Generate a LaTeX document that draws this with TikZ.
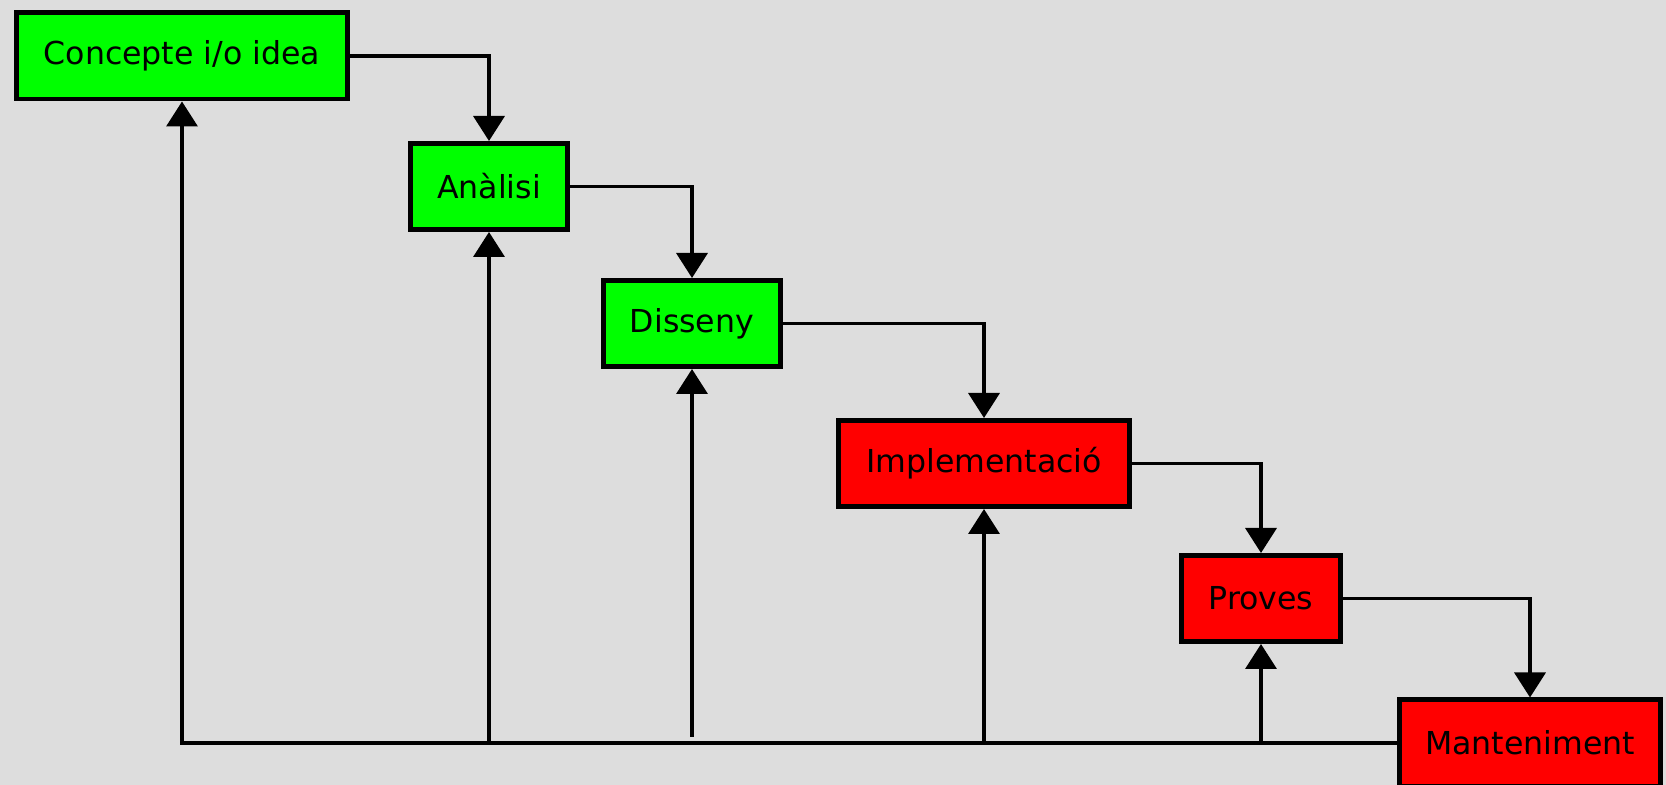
\documentclass[tikz,border=0pt]{standalone}
\usepackage{fontspec}
\setmainfont{DejaVu Sans}
\usetikzlibrary{arrows.meta,calc}
\definecolor{bg}{HTML}{DDDDDD}
\definecolor{boxgreen}{HTML}{00FF00}
\definecolor{boxred}{HTML}{FF0000}
\begin{document}
\begin{tikzpicture}[x=0.5pt,y=-0.5pt,
  phase/.style={draw=black, line width=2.3pt, rectangle, inner sep=0pt,
    minimum height=43.2pt, font=\fontsize{15.8}{19}\selectfont},
  greenbox/.style={phase, fill=boxgreen},
  redbox/.style={phase, fill=boxred},
  conn/.style={line width=1.8pt, draw=black},
  arr/.style={conn, -{Triangle[length=12.5pt,width=15.5pt]}}]
\fill[bg] (0,0) rectangle (1666,785);
\useasboundingbox (0,0) rectangle (1666,785);
\node[greenbox, minimum width=165.7pt] (c) at (182,56) {Concepte i/o idea};
\node[greenbox, minimum width=78.7pt] (a) at (489,186.5) {Anàlisi};
\node[greenbox, minimum width=88.7pt] (d) at (692,323.5) {Disseny};
\node[redbox, minimum width=145.7pt] (i) at (984,463.5) {Implementació};
\node[redbox, minimum width=79.7pt] (p) at (1261,598.5) {Proves};
\node[redbox, minimum width=130.7pt] (m) at (1530,743) {Manteniment};
% forward flow
\draw[arr] (c.east) -| (a.north);
\draw[arr] (a.east) -| (d.north);
\draw[arr] (d.east) -| (i.north);
\draw[arr] (i.east) -| (p.north);
\draw[arr] (p.east) -| (m.north);
% feedback
\draw[arr] (m.west) -| (c.south);
\draw[arr] (m.west -| a.south) -- (a.south);
\coordinate (dstart) at ($(m.west -| d.south)+(0,-6)$);
\draw[arr] (dstart) -- (d.south);
\draw[arr] (m.west -| i.south) -- (i.south);
\draw[arr] (m.west -| p.south) -- (p.south);
\end{tikzpicture}
\end{document}
